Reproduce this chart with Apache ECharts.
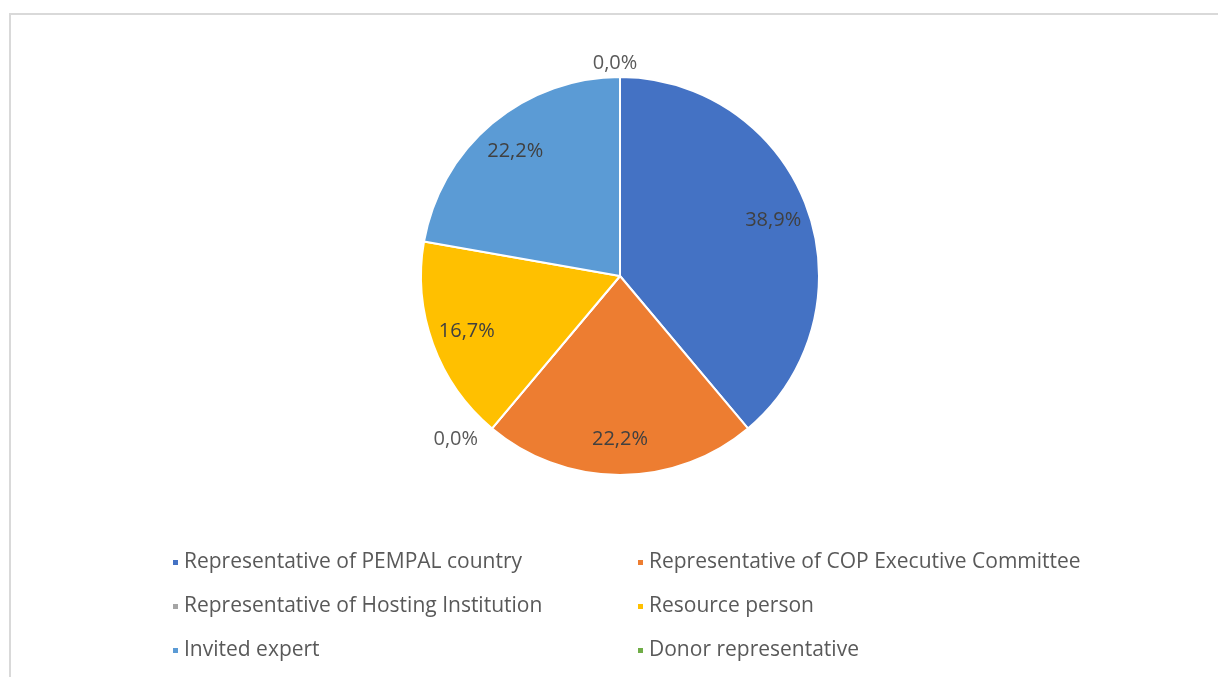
<!DOCTYPE html>
<html>
<head>
<meta charset="utf-8">
<script src="https://cdn.jsdelivr.net/npm/echarts@6/dist/echarts.min.js"></script>
<style>
html,body{margin:0;padding:0;background:#fff;overflow:hidden;}
#wrap{position:absolute;left:0;top:0;width:1218px;height:677px;}
#frame{position:absolute;left:9px;top:13px;width:1300px;height:800px;border-left:2px solid #d9d9d9;border-top:2px solid #d9d9d9;box-sizing:border-box;}
#chart{position:absolute;left:0;top:0;width:1218px;height:677px;}
</style>
</head>
<body>
<div id="wrap"><div id="frame"></div><div id="chart"></div></div>
<script>
const categories = [
  'Representative of PEMPAL country',
  'Representative of COP Executive Committee',
  'Representative of Hosting Institution',
  'Resource person',
  'Invited expert',
  'Donor representative'
];
const values = [7, 4, 0, 3, 4, 0];
const colors = ['#4472C4', '#ED7D31', '#A5A5A5', '#FFC000', '#5B9BD5', '#70AD47'];
const legendLeft = [categories[0], categories[2], categories[4]];
const legendRight = [categories[1], categories[3], categories[5]];

const FONT = '"Open Sans", sans-serif';
const fmt = p => p.percent.toFixed(1).replace('.', ',') + '%';

const chart = echarts.init(document.getElementById('chart'), null, {renderer: 'canvas'});

const total = values.reduce((a, b) => a + b, 0);
let cum = 0;
const topZero = [];
const mainData = categories.map((c, i) => {
  const before = cum;
  cum += values[i];
  if (values[i] === 0 && (before === 0 || before === total)) topZero.push(i);
  return {
    name: c,
    value: values[i],
    itemStyle: {color: colors[i]},
    label: {show: values[i] === 0}
  };
});
const labelData = categories.map((c, i) => ({
  name: c,
  value: values[i],
  label: {show: values[i] !== 0}
}));

const legendCommon = {
  orient: 'vertical',
  top: 547,
  itemWidth: 7,
  itemHeight: 7,
  itemGap: 23,
  icon: 'rect',
  selectedMode: false,
  textStyle: {fontFamily: FONT, fontSize: 21, color: '#595959'}
};

chart.setOption({
  backgroundColor: 'transparent',
  color: colors,
  animation: false,
  legend: [
    Object.assign({}, legendCommon, {left: 166, data: legendLeft}),
    Object.assign({}, legendCommon, {left: 631, data: legendRight})
  ],
  series: [
    {
      type: 'pie',
      center: [620, 276],
      radius: [0, 199],
      startAngle: 90,
      clockwise: true,
      avoidLabelOverlap: false,
      percentPrecision: 2,
      itemStyle: {borderColor: '#fff', borderWidth: 2},
      label: {
        position: 'outside',
        formatter: fmt,
        fontFamily: FONT,
        fontSize: 20,
        color: '#595959'
      },
      labelLine: {show: false, length: 14, length2: 0},
      labelLayout: function (p) {
        return topZero.indexOf(p.dataIndex) >= 0 ? {align: 'center'} : {};
      },
      emphasis: {disabled: true},
      data: mainData
    },
    {
      type: 'pie',
      center: [620, 276],
      radius: [0, 320],
      startAngle: 90,
      clockwise: true,
      silent: true,
      avoidLabelOverlap: false,
      percentPrecision: 2,
      itemStyle: {color: 'rgba(0,0,0,0)', borderWidth: 0},
      label: {
        position: 'inside',
        formatter: fmt,
        fontFamily: FONT,
        fontSize: 20,
        color: '#404040'
      },
      labelLine: {show: false},
      emphasis: {disabled: true},
      data: labelData
    }
  ]
});
</script>
</body>
</html>
